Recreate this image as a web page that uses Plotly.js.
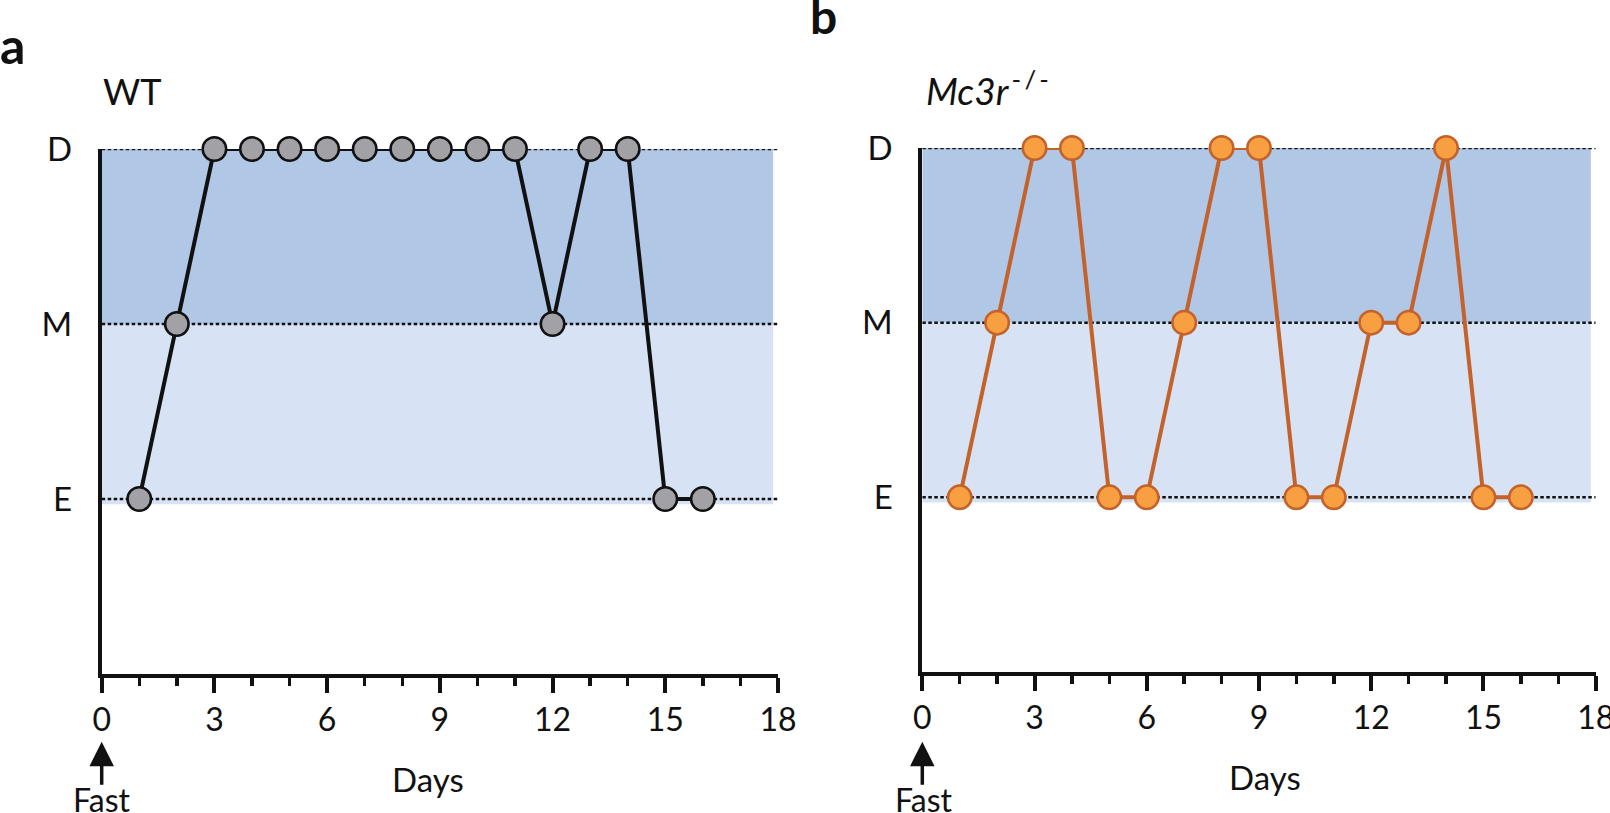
<!DOCTYPE html>
<html>
<head>
<meta charset="utf-8">
<script src="https://cdn.plot.ly/plotly-3.0.1.min.js"></script>
<style>html,body{margin:0;padding:0;background:#fff;}#chart{width:1610px;height:813px;}</style>
</head>
<body>
<div id="chart"></div>
<script>
// ---- data ----
const days = [1, 2, 3, 4, 5, 6, 7, 8, 9, 10, 11, 12, 13, 14, 15, 16];
const stageLabels = ['E', 'M', 'D'];
const stageValues = [1, 2, 3];
const wtStages = ['E', 'M', 'D', 'D', 'D', 'D', 'D', 'D', 'D', 'D', 'D', 'M', 'D', 'D', 'E', 'E'];
const koStages = ['E', 'M', 'D', 'D', 'E', 'E', 'M', 'D', 'D', 'E', 'E', 'M', 'M', 'D', 'E', 'E'];
const xTickVals = [0, 3, 6, 9, 12, 15, 18];
const panelLetters = ['a', 'b'];
const panelTitles = ['WT', '<i>Mc3r</i><sup>\u2009-\u2009/\u2009-</sup>'];
const xTitle = 'Days';
const fastLabel = 'Fast';

// ---- helpers ----
const W = 1610, H = 813;
const toVal = s => stageValues[stageLabels.indexOf(s)];
const px = p => p / W;
const py = p => 1 - p / H;
const FONT = 'Lato, "Open Sans", sans-serif';
const INK = '#111111';

const traces = [
  {
    x: days, y: wtStages.map(toVal), xaxis: 'x', yaxis: 'y',
    type: 'scatter', mode: 'lines+markers', cliponaxis: false,
    line: {color: INK, width: 4},
    marker: {size: 23.5, color: '#a2a2a6', line: {color: INK, width: 2.5}},
    hoverinfo: 'x+y'
  },
  {
    x: days, y: koStages.map(toVal), xaxis: 'x2', yaxis: 'y2',
    type: 'scatter', mode: 'lines+markers', cliponaxis: false,
    line: {color: '#c4622b', width: 4},
    marker: {size: 23.5, color: '#f8a041', line: {color: '#c4622b', width: 2.5}},
    hoverinfo: 'x+y'
  }
];

function xAxis(domain, anchor) {
  return {
    domain: domain, anchor: anchor, range: [0, 18],
    showline: true, linewidth: 4, linecolor: INK,
    ticks: 'outside', ticklen: 15, tickwidth: 4, tickcolor: INK,
    tickvals: xTickVals, ticktext: xTickVals.map(String),
    ticklabeloverflow: 'allow',
    minor: {dtick: 1, tick0: 0, ticks: 'outside', ticklen: 8, tickwidth: 3.5, tickcolor: INK, showgrid: false},
    showgrid: false, zeroline: false, fixedrange: true,
    tickfont: {family: FONT, size: 32, color: INK}
  };
}
function yAxis(domain, anchor) {
  return {
    domain: domain, anchor: anchor, range: [0, 3],
    showline: true, linewidth: 4, linecolor: INK,
    ticks: '', tickvals: stageValues, ticktext: stageLabels,
    ticklabelstandoff: 19,
    showgrid: false, zeroline: false, fixedrange: true,
    tickfont: {family: FONT, size: 33, color: INK}
  };
}

function bandShapes(xr, yr) {
  const s = [];
  s.push({type: 'rect', xref: xr, yref: yr, x0: 0, x1: 17.87, y0: 2, y1: 3, fillcolor: '#b1c7e6', line: {width: 0}, layer: 'below'});
  s.push({type: 'rect', xref: xr, yref: yr, x0: 0, x1: 17.87, y0: 0.97, y1: 2, fillcolor: '#d7e3f4', line: {width: 0}, layer: 'below'});
  stageValues.forEach(v => {
    s.push({type: 'line', xref: xr, yref: yr, x0: 0, x1: 18, y0: v, y1: v, line: {color: INK, width: 2.5, dash: '3.5px,2.5px'}, layer: 'below'});
  });
  return s;
}

const annotations = [
  {text: '<b>' + panelLetters[0] + '</b>', x: px(-2), y: py(45), xref: 'paper', yref: 'paper', xanchor: 'left', yanchor: 'middle', showarrow: false, font: {family: FONT, size: 50, color: INK}},
  {text: '<b>' + panelLetters[1] + '</b>', x: px(808), y: py(16), xref: 'paper', yref: 'paper', xanchor: 'left', yanchor: 'middle', showarrow: false, font: {family: FONT, size: 48, color: INK}},
  {text: panelTitles[0], x: px(101), y: py(91), xref: 'paper', yref: 'paper', xanchor: 'left', yanchor: 'middle', showarrow: false, font: {family: FONT, size: 36, color: INK}},
  {text: panelTitles[1], x: px(924), y: py(88), xref: 'paper', yref: 'paper', xanchor: 'left', yanchor: 'middle', showarrow: false, font: {family: FONT, size: 37, color: INK}},
  {text: xTitle, x: px(428), y: py(779), xref: 'paper', yref: 'paper', xanchor: 'center', yanchor: 'middle', showarrow: false, font: {family: FONT, size: 33, color: INK}},
  {text: xTitle, x: px(1265), y: py(777), xref: 'paper', yref: 'paper', xanchor: 'center', yanchor: 'middle', showarrow: false, font: {family: FONT, size: 33, color: INK}},
  {text: fastLabel, x: px(102.5), y: py(799), xref: 'paper', yref: 'paper', xanchor: 'center', yanchor: 'middle', showarrow: false, font: {family: FONT, size: 32, color: INK}},
  {text: fastLabel, x: px(924), y: py(799), xref: 'paper', yref: 'paper', xanchor: 'center', yanchor: 'middle', showarrow: false, font: {family: FONT, size: 32, color: INK}},
  {text: ' ', x: px(101.7), y: py(741.7), xref: 'paper', yref: 'paper', showarrow: true, ax: 0, ay: 45, arrowhead: 2, arrowsize: 1.4, arrowwidth: 3.5, arrowcolor: INK, font: {size: 1}},
  {text: ' ', x: px(922.3), y: py(741.7), xref: 'paper', yref: 'paper', showarrow: true, ax: 0, ay: 45, arrowhead: 2, arrowsize: 1.4, arrowwidth: 3.5, arrowcolor: INK, font: {size: 1}}
];

const layout = {
  width: W, height: H,
  margin: {l: 0, r: 0, t: 0, b: 0},
  paper_bgcolor: '#ffffff', plot_bgcolor: 'rgba(0,0,0,0)',
  showlegend: false,
  font: {family: FONT, color: INK},
  xaxis: xAxis([px(101.7), px(778)], 'y'),
  yaxis: yAxis([py(674), py(149)], 'x'),
  xaxis2: xAxis([px(922.3), px(1595.7)], 'y2'),
  yaxis2: yAxis([py(672), py(148)], 'x2'),
  shapes: bandShapes('x', 'y').concat(bandShapes('x2', 'y2')),
  annotations: annotations
};

Plotly.newPlot('chart', traces, layout, {displayModeBar: false, staticPlot: true});
</script>
</body>
</html>
